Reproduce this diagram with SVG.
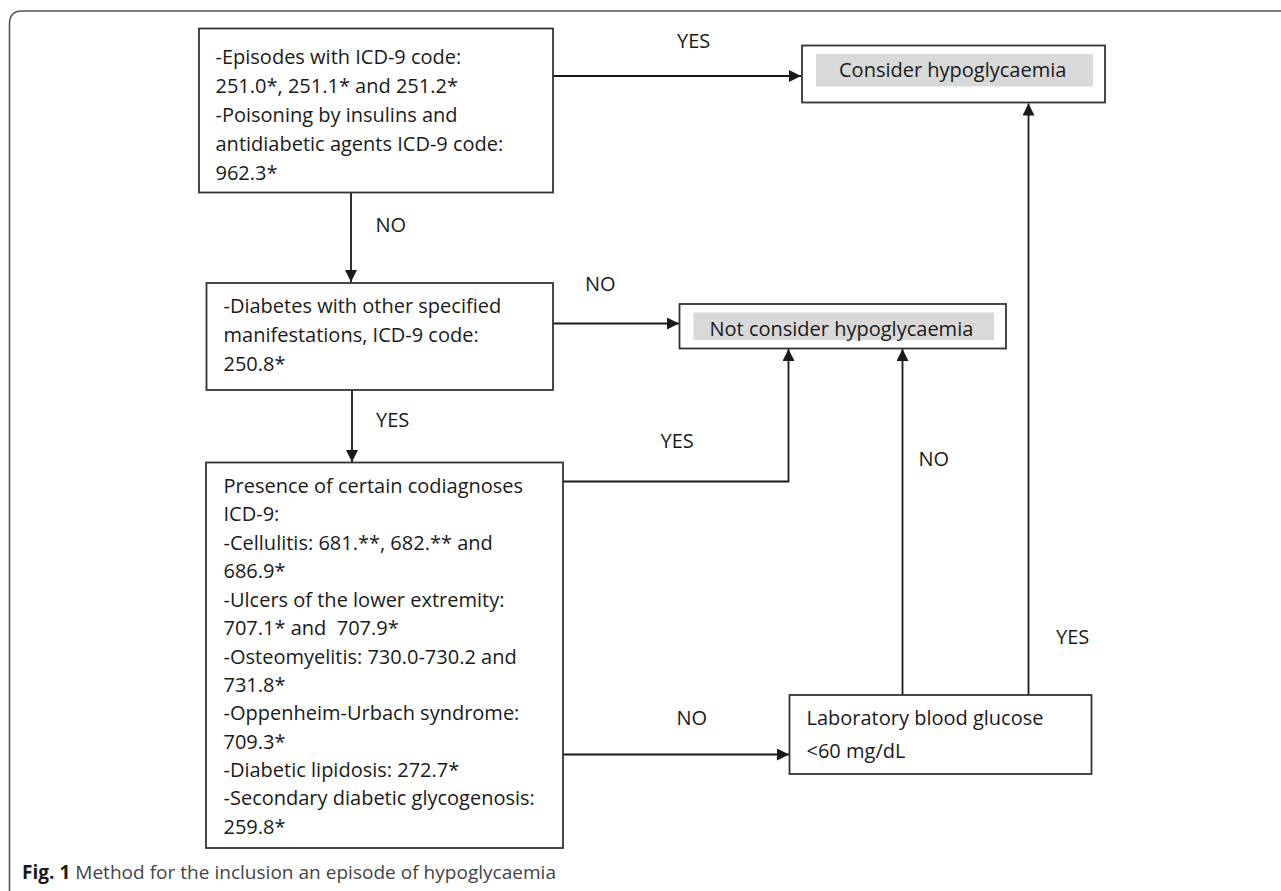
<svg xmlns="http://www.w3.org/2000/svg" width="1281" height="891" viewBox="0 0 1281 891">
  <style>
    .box { fill: #ffffff; stroke: #333333; stroke-width: 1.8; }
    .shade { fill: #d9d9da; stroke: none; }
    .t { font-family: "Open Sans", "Liberation Sans", sans-serif; font-size: 20px; fill: #1a1a1a; }
    .lbl { font-family: "Open Sans", "Liberation Sans", sans-serif; font-size: 20px; fill: #1a1a1a; }
    .edge { fill: none; stroke: #1a1a1a; stroke-width: 1.8; }
    .frame { fill: none; stroke: #555555; stroke-width: 1.6; }
    .cap { font-family: "Open Sans", "Liberation Sans", sans-serif; font-size: 19px; fill: #444444; }
  </style>
  <defs>
    <marker id="arrow" markerUnits="userSpaceOnUse" markerWidth="12" markerHeight="12" viewBox="0 0 12 12" refX="12" refY="6" orient="auto">
      <path d="M0,0 L12,6 L0,12 z" fill="#1a1a1a"/>
    </marker>
  </defs>
  <rect width="1281" height="891" fill="#ffffff"/>
  <path class="frame" d="M9.5,891 V24 Q9.5,11 22,11 H1281"/>

  <g id="connectors">
    <path class="edge" d="M553,76 H801" marker-end="url(#arrow)"/>
    <path class="edge" d="M351,193 V282" marker-end="url(#arrow)"/>
    <path class="edge" d="M553,323.5 H679" marker-end="url(#arrow)"/>
    <path class="edge" d="M352,390 V462" marker-end="url(#arrow)"/>
    <path class="edge" d="M563,481.5 H788.5 V349" marker-end="url(#arrow)"/>
    <path class="edge" d="M563,754.5 H789" marker-end="url(#arrow)"/>
    <path class="edge" d="M902.5,695 V349" marker-end="url(#arrow)"/>
    <path class="edge" d="M1028.5,695 V103.5" marker-end="url(#arrow)"/>
    <text class="lbl" x="677" y="48">YES</text>
    <text class="lbl" x="375.5" y="232">NO</text>
    <text class="lbl" x="585" y="291">NO</text>
    <text class="lbl" x="376" y="427">YES</text>
    <text class="lbl" x="660.5" y="447.5">YES</text>
    <text class="lbl" x="918.5" y="466">NO</text>
    <text class="lbl" x="676.5" y="725">NO</text>
    <text class="lbl" x="1056" y="643.5">YES</text>
  </g>

  <g id="node-episodes">
    <rect class="box" x="199" y="28.5" width="354" height="164"/>
    <text class="t" x="215.5" y="64">-Episodes with ICD-9 code:</text>
    <text class="t" x="215.5" y="93">251.0*, 251.1* and 251.2*</text>
    <text class="t" x="215.5" y="122">-Poisoning by insulins and</text>
    <text class="t" x="215.5" y="151">antidiabetic agents ICD-9 code:</text>
    <text class="t" x="215.5" y="180">962.3*</text>
  </g>

  <g id="node-consider">
    <rect class="box" x="802" y="45.5" width="303" height="57"/>
    <rect class="shade" x="816" y="54" width="277" height="32.5"/>
    <text class="t" x="839" y="77">Consider hypoglycaemia</text>
  </g>

  <g id="node-diabetes">
    <rect class="box" x="206.5" y="283" width="346.5" height="107"/>
    <text class="t" x="223.5" y="313">-Diabetes with other specified</text>
    <text class="t" x="223.5" y="342">manifestations, ICD-9 code:</text>
    <text class="t" x="223.5" y="371">250.8*</text>
  </g>

  <g id="node-not-consider">
    <rect class="box" x="679.5" y="304" width="326.5" height="44.5"/>
    <rect class="shade" x="693.5" y="312.5" width="300.5" height="27.5"/>
    <text class="t" x="709.5" y="335.5">Not consider hypoglycaemia</text>
  </g>

  <g id="node-codiagnoses">
    <rect class="box" x="206" y="462.5" width="357" height="385.5"/>
    <text class="t" x="223.5" y="492.5">Presence of certain codiagnoses</text>
    <text class="t" x="223.5" y="521">ICD-9:</text>
    <text class="t" x="223.5" y="549.5">-Cellulitis: 681.**, 682.** and</text>
    <text class="t" x="223.5" y="578">686.9*</text>
    <text class="t" x="223.5" y="606.5">-Ulcers of the lower extremity:</text>
    <text class="t" x="223.5" y="635" xml:space="preserve">707.1* and  707.9*</text>
    <text class="t" x="223.5" y="663.5">-Osteomyelitis: 730.0-730.2 and</text>
    <text class="t" x="223.5" y="692">731.8*</text>
    <text class="t" x="223.5" y="720">-Oppenheim-Urbach syndrome:</text>
    <text class="t" x="223.5" y="748.5">709.3*</text>
    <text class="t" x="223.5" y="777">-Diabetic lipidosis: 272.7*</text>
    <text class="t" x="223.5" y="805">-Secondary diabetic glycogenosis:</text>
    <text class="t" x="223.5" y="833.5">259.8*</text>
  </g>

  <g id="node-lab">
    <rect class="box" x="789.5" y="695" width="302" height="79"/>
    <text class="t" x="806.5" y="725">Laboratory blood glucose</text>
    <text class="t" x="806.5" y="758">&lt;60 mg/dL</text>
  </g>

  <text class="cap" x="22" y="879" textLength="534" lengthAdjust="spacing"><tspan font-weight="bold" fill="#1a1a1a">Fig. 1</tspan> Method for the inclusion an episode of hypoglycaemia</text>
</svg>
